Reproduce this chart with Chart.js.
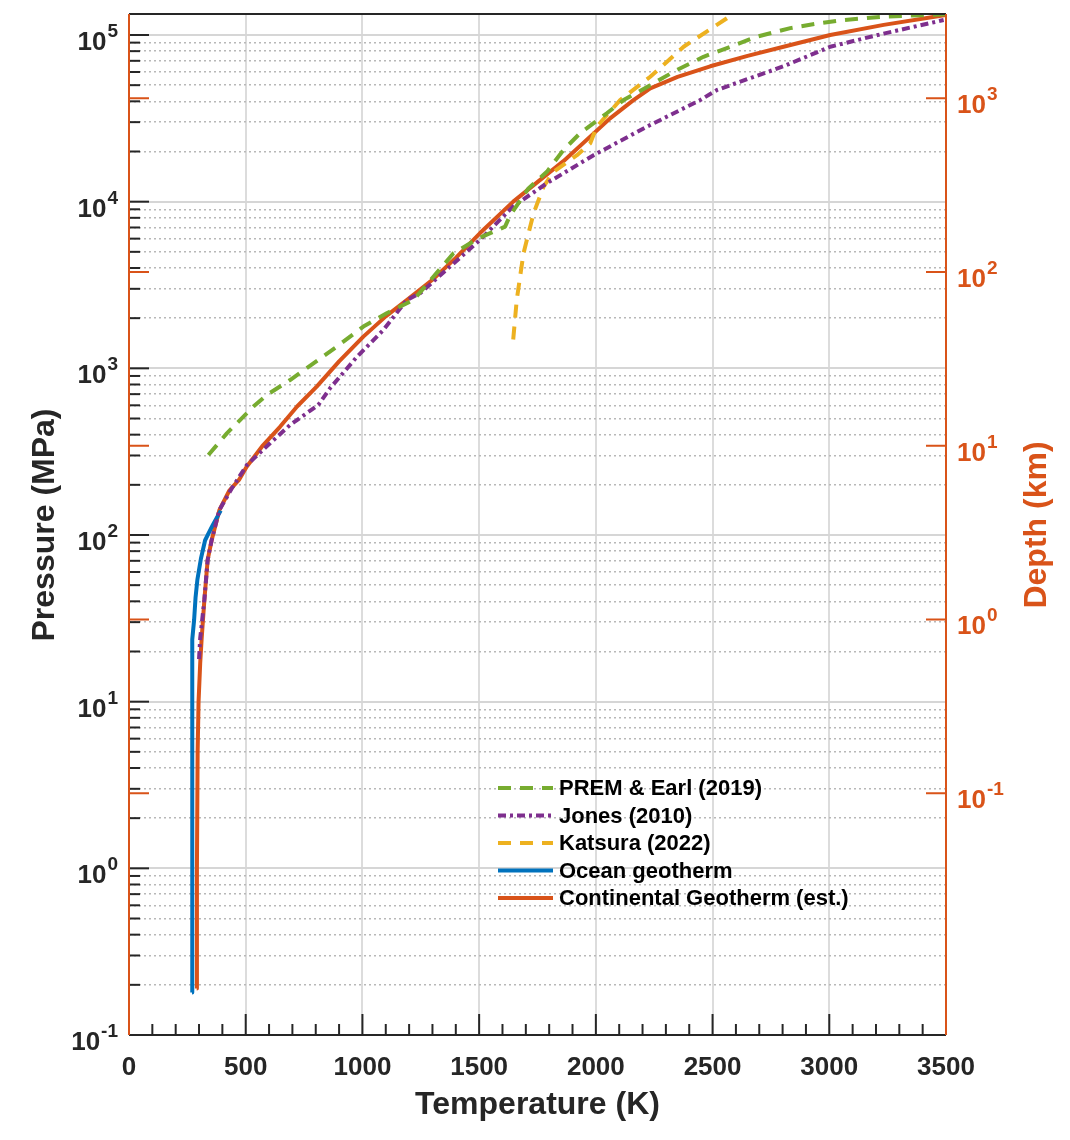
<!DOCTYPE html>
<html>
<head>
<meta charset="utf-8">
<script src="https://cdn.jsdelivr.net/npm/chart.js@4.4.1/dist/chart.umd.min.js"></script>
<style>
  html, body { margin: 0; padding: 0; background: #fff; }
  #wrap { width: 1070px; height: 1140px; position: relative; }
</style>
</head>
<body>
<div id="wrap"><canvas id="chart"></canvas></div>
<script>
// Datos: temperatura (K) y presión (MPa)
const premT = [340, 419, 533, 590, 690, 790, 890, 1004, 1104, 1219, 1390, 1497, 1561, 1611, 1633, 1711, 1790, 1861, 1933, 2047, 2119, 2233, 2347, 2461, 2576, 2690, 2833, 2947, 3061, 3233, 3433, 3500];
const premP = [302, 407, 590, 692, 851, 1070, 1350, 1780, 2140, 2570, 4900, 6030, 6600, 7080, 8300, 12000, 15100, 20400, 25800, 33900, 40700, 50000, 61700, 74000, 85000, 97700, 110000, 117000, 123000, 129000, 132000, 133000];

const jonesT = [300, 305, 323, 337, 354, 387, 440, 504, 604, 690, 811, 861, 976, 1090, 1190, 1247, 1504, 1647, 1790, 1990, 2219, 2447, 2519, 2804, 3004, 3233, 3490];
const jonesP = [18, 24, 41, 71, 93, 141, 190, 262, 355, 457, 603, 759, 1170, 1700, 2570, 2820, 5900, 9400, 12900, 19000, 28200, 40700, 46800, 64900, 85000, 102000, 123000];

const katsuraT = [1646, 1661, 1690, 1733, 1776, 1819, 1870, 1919, 1976, 2004, 2104, 2233, 2376, 2590];
const katsuraP = [1490, 2570, 4900, 8500, 12300, 15100, 17000, 19000, 22400, 28200, 40700, 56200, 85000, 134000];

const oceanT = [270, 270, 270, 271, 273, 279, 285, 293, 308, 326, 359, 393];
const oceanP = [0.18, 1, 10, 18, 23.6, 31, 42, 54, 72, 93, 115, 140];

const contT = [290, 291, 294, 298, 305, 311, 323, 337, 354, 387, 430, 471, 504, 570, 647, 720, 804, 900, 1004, 1100, 1190, 1300, 1400, 1504, 1646, 1861, 2061, 2161, 2233, 2350, 2490, 2650, 2804, 3004, 3233, 3500];
const contP = [0.19, 1, 5, 10, 17, 23.6, 41, 71, 93, 141, 185, 214, 257, 340, 446, 590, 776, 1100, 1550, 2050, 2570, 3400, 4600, 6480, 10000, 17500, 31600, 40700, 47900, 56000, 64900, 75000, 85000, 100000, 115000, 132000];

// Ejes
const xTickLabels = [0, 500, 1000, 1500, 2000, 2500, 3000, 3500];
const pressureDecades = [-1, 0, 1, 2, 3, 4, 5];
const depthDecades = [-1, 0, 1, 2, 3];
const seriesLabels = ["PREM & Earl (2019)", "Jones (2010)", "Katsura (2022)", "Ocean geotherm", "Continental Geotherm (est.)"];

const ORANGE = "#D95319";
const AXIS = "#262626";
const FONT = "'Liberation Sans', Arial, Helvetica, sans-serif";

const zip = (xs, ys) => xs.map((x, i) => ({ x: x, y: ys[i] }));

const isMajor = (v) => Math.abs(Math.log10(v) - Math.round(Math.log10(v))) < 1e-9;

// Marcas logarítmicas 1..9 por década
const logTicks = (minExp, maxExp, max) => {
  const ticks = [];
  for (let e = minExp; e <= maxExp; e++) {
    for (let m = 1; m <= 9; m++) {
      const v = m * Math.pow(10, e);
      if (v <= max * 1.0001) ticks.push({ value: v, major: m === 1 });
    }
  }
  return ticks;
};

const datasets = [
  { label: seriesLabels[0], data: zip(premT, premP), borderColor: "#77AC30", borderDash: [13, 9] },
  { label: seriesLabels[1], data: zip(jonesT, jonesP), borderColor: "#7E2F8E", borderDash: [8, 4, 3, 4] },
  { label: seriesLabels[2], data: zip(katsuraT, katsuraP), borderColor: "#EDB120", borderDash: [13, 9] },
  { label: seriesLabels[3], data: zip(oceanT, oceanP), borderColor: "#0072BD", borderDash: [] },
  { label: seriesLabels[4], data: zip(contT, contP), borderColor: ORANGE, borderDash: [] },
].map((d) => Object.assign(d, {
  borderWidth: 4,
  pointRadius: 0,
  fill: false,
  tension: 0,
  borderJoinStyle: "round",
  yAxisID: "y",
}));

// Dibuja "10" con exponente
function drawPower(ctx, exp, x, y, align, color) {
  const base = "10";
  const sup = String(exp);
  ctx.fillStyle = color;
  ctx.font = "bold 26px " + FONT;
  const wb = ctx.measureText(base).width;
  ctx.font = "bold 19px " + FONT;
  const ws = ctx.measureText(sup).width;
  const x0 = align === "right" ? x - wb - ws - 1 : x;
  ctx.textAlign = "left";
  ctx.textBaseline = "alphabetic";
  ctx.font = "bold 26px " + FONT;
  ctx.fillText(base, x0, y + 15);
  ctx.font = "bold 19px " + FONT;
  ctx.fillText(sup, x0 + wb + 1, y + 2);
}

const axesPlugin = {
  id: "axesPlugin",
  afterDraw(chart) {
    const ctx = chart.ctx;
    const { left, right, top, bottom } = chart.chartArea;
    const xs = chart.scales.x;
    const ys = chart.scales.y;
    const ds = chart.scales.y2;
    ctx.save();

    // Marcas del eje x (hacia dentro)
    ctx.strokeStyle = AXIS;
    ctx.lineWidth = 2;
    for (let t = 0; t <= 3500; t += 100) {
      const px = xs.getPixelForValue(t);
      const len = t % 500 === 0 ? 21 : 11;
      ctx.beginPath();
      ctx.moveTo(px, bottom);
      ctx.lineTo(px, bottom - len);
      ctx.stroke();
    }

    // Marcas del eje de presión
    ys.ticks.forEach((t) => {
      const py = ys.getPixelForValue(t.value);
      const len = isMajor(t.value) ? 20 : 11;
      ctx.beginPath();
      ctx.moveTo(left, py);
      ctx.lineTo(left + len, py);
      ctx.stroke();
    });

    // Marcas del eje de profundidad (ambos lados)
    ctx.strokeStyle = ORANGE;
    depthDecades.forEach((e) => {
      const py = ds.getPixelForValue(Math.pow(10, e));
      ctx.beginPath();
      ctx.moveTo(left, py);
      ctx.lineTo(left + 20, py);
      ctx.moveTo(right, py);
      ctx.lineTo(right - 20, py);
      ctx.stroke();
    });

    // Bordes
    ctx.strokeStyle = AXIS;
    ctx.beginPath();
    ctx.moveTo(left, top);
    ctx.lineTo(right, top);
    ctx.moveTo(left, bottom);
    ctx.lineTo(right, bottom);
    ctx.stroke();
    ctx.strokeStyle = ORANGE;
    ctx.beginPath();
    ctx.moveTo(left, top);
    ctx.lineTo(left, bottom);
    ctx.moveTo(right, top);
    ctx.lineTo(right, bottom);
    ctx.stroke();

    // Etiquetas del eje x
    ctx.fillStyle = AXIS;
    ctx.font = "bold 26px " + FONT;
    ctx.textAlign = "center";
    ctx.textBaseline = "alphabetic";
    xTickLabels.forEach((t) => {
      ctx.fillText(String(t), xs.getPixelForValue(t), 1075);
    });

    // Etiquetas de presión y profundidad
    pressureDecades.forEach((e) => {
      drawPower(ctx, e, 118, ys.getPixelForValue(Math.pow(10, e)), "right", AXIS);
    });
    depthDecades.forEach((e) => {
      drawPower(ctx, e, 957, ds.getPixelForValue(Math.pow(10, e)), "left", ORANGE);
    });

    // Títulos de ejes
    ctx.font = "bold 32px " + FONT;
    ctx.textAlign = "center";
    ctx.textBaseline = "middle";
    ctx.fillStyle = AXIS;
    ctx.fillText("Temperature (K)", (left + right) / 2, 1105);
    ctx.save();
    ctx.translate(45, 525);
    ctx.rotate(-Math.PI / 2);
    ctx.fillText("Pressure (MPa)", 0, 0);
    ctx.restore();
    ctx.save();
    ctx.fillStyle = ORANGE;
    ctx.translate(1037, 525);
    ctx.rotate(-Math.PI / 2);
    ctx.fillText("Depth (km)", 0, 0);
    ctx.restore();

    // Leyenda dentro del área
    ctx.font = "bold 22px " + FONT;
    ctx.textAlign = "left";
    ctx.textBaseline = "middle";
    chart.data.datasets.forEach((d, i) => {
      const y = 788 + i * 27.5;
      ctx.strokeStyle = d.borderColor;
      ctx.lineWidth = 4;
      ctx.setLineDash(d.borderDash);
      ctx.beginPath();
      ctx.moveTo(498, y);
      ctx.lineTo(553, y);
      ctx.stroke();
      ctx.setLineDash([]);
      ctx.fillStyle = "#000";
      ctx.fillText(d.label, 559, y + 1);
    });

    ctx.restore();
  },
};

new Chart(document.getElementById("chart"), {
  type: "line",
  data: { datasets: datasets },
  options: {
    responsive: true,
    maintainAspectRatio: false,
    animation: false,
    layout: { padding: { top: 14, left: 0, right: 0, bottom: 0 } },
    plugins: {
      legend: { display: false },
      tooltip: { enabled: false },
    },
    scales: {
      x: {
        type: "linear",
        position: "bottom",
        min: 0,
        max: 3500,
        ticks: { stepSize: 500, display: false },
        grid: { color: "#dcdcdc", lineWidth: 2, drawTicks: false },
        border: { display: false },
        afterFit: (s) => { s.height = 105; },
      },
      y: {
        type: "logarithmic",
        position: "left",
        min: 0.1,
        max: 133660,
        afterBuildTicks: (s) => { s.ticks = logTicks(-1, 5, 133660); },
        ticks: { display: false },
        grid: {
          drawTicks: false,
          color: (c) => (c.tick && isMajor(c.tick.value) ? "#d6d6d6" : "#b8b8b8"),
          lineWidth: (c) => (c.tick && isMajor(c.tick.value) ? 2 : 1.5),
        },
        border: {
          display: false,
          dash: (c) => (c.tick && isMajor(c.tick.value) ? [] : [2, 3]),
        },
        afterFit: (s) => { s.width = 129; },
      },
      y2: {
        type: "logarithmic",
        position: "right",
        min: 0.00406,
        max: 3055,
        afterBuildTicks: (s) => { s.ticks = depthDecades.map((e) => ({ value: Math.pow(10, e), major: true })); },
        ticks: { display: false },
        grid: { display: false },
        border: { display: false },
        afterFit: (s) => { s.width = 124; },
      },
    },
  },
  plugins: [axesPlugin],
});
</script>
</body>
</html>
